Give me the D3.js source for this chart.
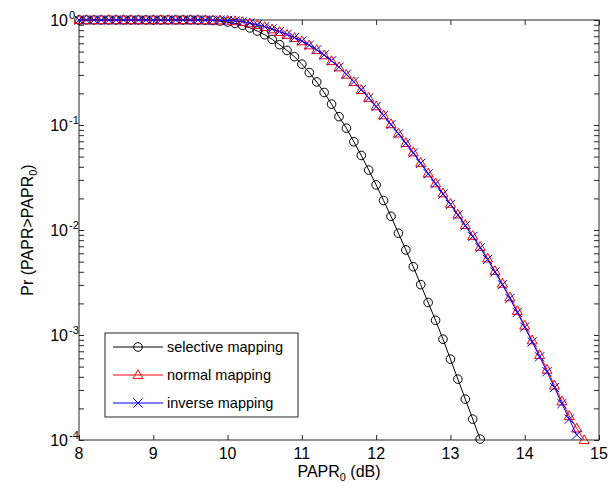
<!DOCTYPE html>
<html>
<head>
<meta charset="utf-8">
<script src="https://cdn.jsdelivr.net/npm/d3@7/dist/d3.min.js"></script>
<style>
  body { margin: 0; background: #fff; }
  svg { display: block; }
  text { font-family: "Liberation Sans", Arial, Helvetica, sans-serif; fill: #000; }
</style>
</head>
<body>
<svg id="chart" width="614" height="486"></svg>
<script>
// PAPR threshold grid (dB): first value and spacing of the simulated points
const paprStart = 8.0;
const paprStep = 0.1;

// CCDF Pr(PAPR > PAPR0) for each scheme, one value per grid point
const selectiveMapping = [
  1, 1, 1, 1, 1, 1, 1, 1, 1, 1, 1, 1, 1, 1, 1, 1,
  0.998, 0.995, 0.989, 0.977, 0.957, 0.929, 0.891, 0.841, 0.785, 0.724,
  0.653, 0.582, 0.513, 0.447, 0.380, 0.316, 0.257, 0.204, 0.158, 0.120,
  0.0933, 0.0692, 0.0513, 0.0372, 0.0269, 0.0191, 0.0135, 0.00933, 0.00646, 0.00447,
  0.00302, 0.00204, 0.00138, 0.000912, 0.000589, 0.000380, 0.000245, 0.000158, 0.000102
];
const normalMapping = [
  1, 1, 1, 1, 1, 1, 1, 1, 1, 1, 1, 1, 1, 1, 1, 1, 1,
  0.998, 0.995, 0.993, 0.989, 0.977, 0.959, 0.933, 0.898, 0.859, 0.817,
  0.771, 0.724, 0.676, 0.628, 0.575, 0.519, 0.462, 0.407, 0.355, 0.302,
  0.257, 0.216, 0.182, 0.151, 0.124, 0.102, 0.0832, 0.0676, 0.0550, 0.0437,
  0.0347, 0.0279, 0.0224, 0.0178, 0.0141, 0.0112, 0.00881, 0.00692, 0.00537, 0.00407,
  0.00309, 0.00229, 0.00170, 0.00123, 0.000891, 0.000646, 0.000468, 0.000331, 0.000234, 0.000170,
  0.000129, 0.000100
];
const inverseMapping = [
  1, 1, 1, 1, 1, 1, 1, 1, 1, 1, 1, 1, 1, 1, 1, 1, 1,
  0.999, 0.996, 0.994, 0.990, 0.979, 0.962, 0.937, 0.903, 0.864, 0.822,
  0.777, 0.729, 0.680, 0.631, 0.577, 0.521, 0.465, 0.409, 0.356, 0.304,
  0.258, 0.217, 0.181, 0.150, 0.123, 0.101, 0.0825, 0.0668, 0.0541, 0.0432,
  0.0343, 0.0275, 0.0220, 0.0175, 0.0139, 0.0110, 0.00866, 0.00678, 0.00524, 0.00398,
  0.00301, 0.00223, 0.00164, 0.00119, 0.000859, 0.000620, 0.000447, 0.000316, 0.000222, 0.000158,
  0.000112
];

const seriesNames = ["selective mapping", "normal mapping", "inverse mapping"];
const seriesColors = ["#000000", "#ff0000", "#0000ff"];
const seriesMarkers = ["circle", "triangle", "cross"];

// axis ticks
const xTicks = [8, 9, 10, 11, 12, 13, 14, 15];
const yExponents = [0, -1, -2, -3, -4];

const svg = d3.select("#chart");
const margin = { left: 79, right: 15, top: 20, bottom: 46 };
const W = 614, H = 486;
const x = d3.scaleLinear().domain([8, 15]).range([margin.left, W - margin.right]);
const y = d3.scaleLog().domain([1e-4, 1]).range([H - margin.bottom, margin.top]);

const majorVals = yExponents.map(e => Math.pow(10, e));
const minorVals = [];
yExponents.slice(1).forEach(e => {
  for (let m = 2; m <= 9; m++) minorVals.push(m * Math.pow(10, e));
});

const tickLen = 5;
const axisColor = "#262626";

function styleAxis(g) {
  g.select(".domain").remove();
  g.selectAll(".tick line").attr("stroke", axisColor).attr("stroke-width", 1);
  g.selectAll(".tick text").remove();
}

// x ticks, bottom and top, pointing inward
svg.append("g").attr("transform", `translate(0,${y(1e-4)})`)
  .call(d3.axisBottom(x).tickValues(xTicks).tickSize(-tickLen)).call(styleAxis);
svg.append("g").attr("transform", `translate(0,${y(1)})`)
  .call(d3.axisTop(x).tickValues(xTicks).tickSize(-tickLen)).call(styleAxis);
// y ticks, left and right, majors and minors
svg.append("g").attr("transform", `translate(${x(8)},0)`)
  .call(d3.axisLeft(y).tickValues(majorVals.concat(minorVals)).tickSize(-tickLen)).call(styleAxis);
svg.append("g").attr("transform", `translate(${x(15)},0)`)
  .call(d3.axisRight(y).tickValues(majorVals.concat(minorVals)).tickSize(-tickLen)).call(styleAxis);

// box
svg.append("rect")
  .attr("x", x(8)).attr("y", y(1))
  .attr("width", x(15) - x(8)).attr("height", y(1e-4) - y(1))
  .attr("fill", "none").attr("stroke", axisColor).attr("stroke-width", 1);

// x tick labels
svg.append("g").selectAll("text").data(xTicks).join("text")
  .attr("x", d => x(d)).attr("y", y(1e-4) + 19)
  .attr("text-anchor", "middle").attr("font-size", 16)
  .text(d => d);

// y tick labels: base 10 with its exponent set as a superscript
const yLab = svg.append("g").selectAll("g").data(yExponents).join("g")
  .attr("transform", d => `translate(0,${y(Math.pow(10, d))})`);
yLab.append("text").attr("x", x(8) - 11).attr("y", 6)
  .attr("text-anchor", "end").attr("font-size", 16).text("10");
yLab.append("text").attr("x", x(8) - 10).attr("y", -1)
  .attr("text-anchor", "start").attr("font-size", 11).text(d => d);

// axis titles
const xt = svg.append("text")
  .attr("x", (x(8) + x(15)) / 2).attr("y", 477)
  .attr("text-anchor", "middle").attr("font-size", 16);
xt.append("tspan").text("PAPR");
xt.append("tspan").attr("dy", 4).attr("font-size", 11).text("0");
xt.append("tspan").attr("dy", -4).text(" (dB)");

const yt = svg.append("text")
  .attr("transform", `translate(33,${(y(1) + y(1e-4)) / 2}) rotate(-90)`)
  .attr("text-anchor", "middle").attr("font-size", 16);
yt.append("tspan").text("Pr (PAPR>PAPR");
yt.append("tspan").attr("dy", 4).attr("font-size", 11).text("0");
yt.append("tspan").attr("dy", -4).text(")");

// marker drawing
function drawMarker(sel, kind, color) {
  if (kind === "circle") {
    sel.append("circle").attr("r", 4.3).attr("fill", "none")
      .attr("stroke", color).attr("stroke-width", 1);
  } else if (kind === "triangle") {
    sel.append("path").attr("d", "M0,-5.2L5,3.6L-5,3.6Z").attr("fill", "none")
      .attr("stroke", color).attr("stroke-width", 1);
  } else {
    sel.append("path").attr("d", "M-4.6,-4.6L4.6,4.6M-4.6,4.6L4.6,-4.6").attr("fill", "none")
      .attr("stroke", color).attr("stroke-width", 1);
  }
}

const allSeries = [selectiveMapping, normalMapping, inverseMapping];
const line = d3.line()
  .x((d, i) => x(paprStart + i * paprStep))
  .y(d => y(d));

allSeries.forEach((vals, k) => {
  const g = svg.append("g");
  g.append("path").datum(vals).attr("d", line)
    .attr("fill", "none").attr("stroke", seriesColors[k]).attr("stroke-width", 1);
  g.selectAll("g.m").data(vals).join("g").attr("class", "m")
    .attr("transform", (d, i) => `translate(${x(paprStart + i * paprStep)},${y(d)})`)
    .each(function () { drawMarker(d3.select(this), seriesMarkers[k], seriesColors[k]); });
});

// legend
const lg = svg.append("g");
lg.append("rect").attr("x", 105).attr("y", 333).attr("width", 193).attr("height", 84)
  .attr("fill", "#fff").attr("stroke", axisColor).attr("stroke-width", 1);
seriesNames.forEach((name, k) => {
  const ly = 347 + k * 28;
  lg.append("line").attr("x1", 113).attr("x2", 163).attr("y1", ly).attr("y2", ly)
    .attr("stroke", seriesColors[k]).attr("stroke-width", 1);
  const m = lg.append("g").attr("transform", `translate(138,${ly})`);
  drawMarker(m, seriesMarkers[k], seriesColors[k]);
  lg.append("text").attr("x", 167).attr("y", ly + 5).attr("font-size", 14.5).text(name);
});
</script>
</body>
</html>
